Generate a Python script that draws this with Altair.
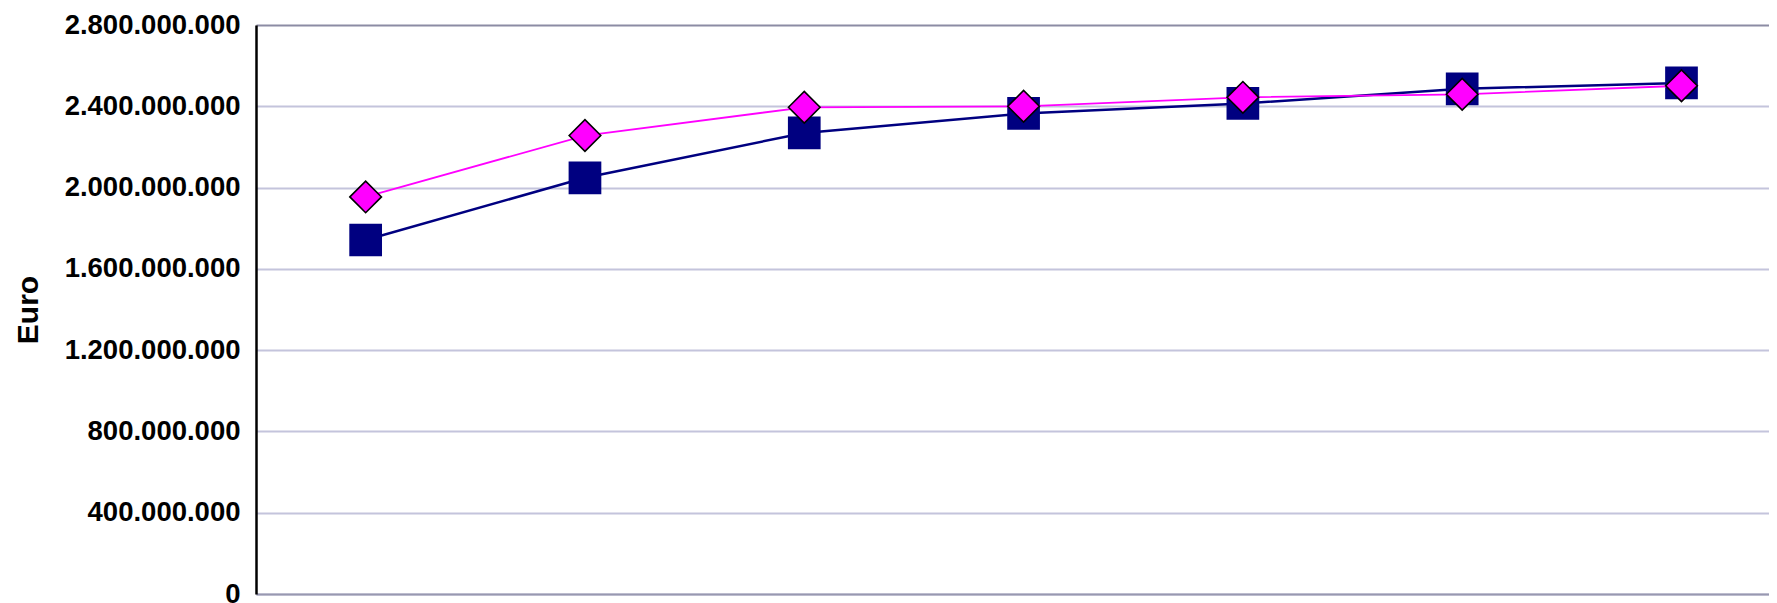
import altair as alt
import pandas as pd

categories = ["2001", "2002", "2003", "2004", "2005", "2006", "2007"]
serie_blu = [1742000000, 2048000000, 2269000000, 2365000000, 2414000000, 2486000000, 2515000000]
serie_magenta = [1954000000, 2256000000, 2395000000, 2400000000, 2444000000, 2459000000, 2501000000]
y_ticks = [0, 400000000, 800000000, 1200000000, 1600000000, 2000000000, 2400000000, 2800000000]

df = pd.DataFrame({
    "cat": categories,
    "pos": list(range(len(categories))),
    "blu": serie_blu,
    "magenta": serie_magenta,
})

x_enc = alt.X("pos:Q", scale=alt.Scale(domain=[-0.5, 6.399], nice=False, zero=False),
              axis=alt.Axis(title=None, domainColor="#9898b0", domainWidth=2, ticks=False,
                            labels=False, grid=False))

label_expr = "replace(replace(replace(format(datum.value, ',d'), ',', '.'), ',', '.'), ',', '.')"

y_axis = alt.Axis(values=y_ticks, title="Euro", labelExpr=label_expr,
                  labelFont="Liberation Sans", labelFontSize=27.5, labelFontWeight="bold",
                  labelColor="black", labelPadding=16, ticks=False,
                  domainColor="black", domainWidth=2.5,
                  grid=True, gridWidth=2,
                  gridColor=alt.condition("datum.value == 2800000000", alt.value("#8c8ca4"), alt.value("#c4c4dc")),
                  titleFont="Liberation Sans", titleFontSize=30, titleFontWeight="bold",
                  titleColor="black", titleAngle=270, titleX=-228, titleY=284.5,
                  titleAlign="center", titleBaseline="middle")

base = alt.Chart(df)

y_blu = alt.Y("blu:Q", scale=alt.Scale(domain=[0, 2800000000], nice=False, zero=True), axis=y_axis)
y_mag = alt.Y("magenta:Q", scale=alt.Scale(domain=[0, 2800000000], nice=False, zero=True))

line_blu = base.mark_line(color="#000080", strokeWidth=2.5).encode(x=x_enc, y=y_blu)
pts_blu = base.mark_point(shape="square", filled=True, color="#000080", size=1070, opacity=1).encode(x=x_enc, y=y_blu)
line_mag = base.mark_line(color="#ff00ff", strokeWidth=1.8).encode(x=x_enc, y=y_mag)
pts_mag = base.mark_point(shape="diamond", filled=True, fill="#ff00ff", stroke="black",
                          strokeWidth=1.6, size=1000, opacity=1).encode(x=x_enc, y=y_mag)

chart = alt.layer(line_blu, pts_blu, line_mag, pts_mag).properties(
    width=1513, height=569,
    autosize=alt.AutoSizeParams(type="none"),
    padding={"left": 248, "top": 17, "right": 0, "bottom": 9},
).configure_view(strokeWidth=0).configure(background="white")

chart.save("out.html", embed_options={"renderer": "svg", "actions": False})
